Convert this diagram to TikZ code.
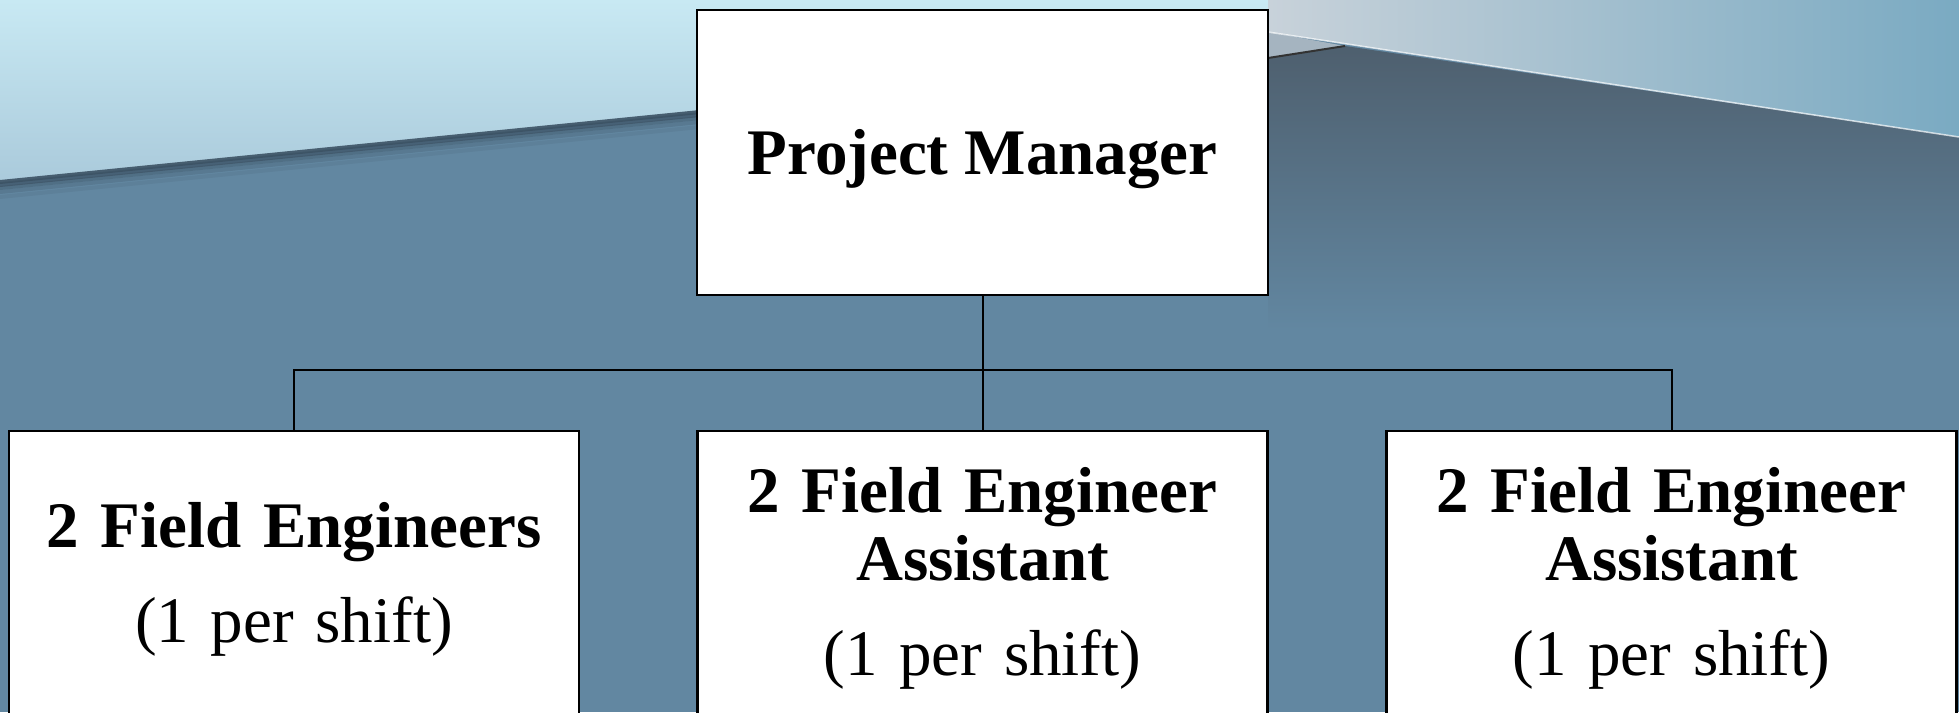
\documentclass[tikz,border=0pt]{standalone}
\usepackage{fontspec}
\setmainfont{Liberation Serif}

\definecolor{slate}{RGB}{98,135,161}
\definecolor{skytop}{RGB}{200,233,243}
\definecolor{skylow}{RGB}{170,202,219}
\definecolor{sheenL}{RGB}{200,210,218}
\definecolor{sheenR}{RGB}{122,170,194}
\definecolor{sheenM}{RGB}{165,180,192}
\definecolor{dusk}{RGB}{78,95,110}
\definecolor{shadow}{RGB}{60,82,100}

\begin{document}
\begin{tikzpicture}[x=1pt, y=-1pt,
    pmbox/.style={draw, line width=2.2pt, fill=white, minimum width=571pt, minimum height=285pt, text height=52pt, text depth=9pt, font=\fontsize{65}{68}\selectfont\bfseries},
    staffbox/.style={draw, line width=2.2pt, fill=white, anchor=north, text width=500pt, inner xsep=35pt, align=center, font=\fontsize{65}{68}\selectfont},
    link/.style={line width=2pt}]
    \useasboundingbox (0,0) rectangle (1959,712);
    \clip (0,0) rectangle (1959,712);

    % background
    \fill[slate] (0,0) rectangle (1959,712);
    \shade[top color=skytop, bottom color=skylow] (0,0) -- (1268,0) -- (1268,40) -- (700,112) -- (0,182) -- cycle;
    \foreach \d/\o in {0/0.9, 3/0.7, 6/0.45, 10/0.25, 15/0.12}
        \draw[shadow, line width=4pt, opacity=\o] (0,182+\d) -- (700,112+\d);
    \shade[left color=sheenL, right color=sheenR] (1268,0) -- (1959,0) -- (1959,137) -- (1268,32) -- cycle;
    \fill[sheenM] (1268,32) -- (1345,46) -- (1268,58) -- cycle;
    \shade[top color=dusk, bottom color=slate] (1268,58) -- (1345,46) -- (1959,137) -- (1959,330) -- (1268,330) -- cycle;
    \draw[white, line width=1.5pt, opacity=.7] (1268,32) -- (1959,137);
    \draw[black!80, line width=2pt] (1268,58) -- (1345,46);

    % chart
    \node[pmbox] (pm) at (982.5,152.5) {Project Manager};
    \node[staffbox, inner ysep=71pt] (fe) at (294,430) {\textbf{2 Field Engineers}\\[27pt](1 per shift)};
    \node[staffbox, inner ysep=36pt] (fea1) at (982.5,430) {\textbf{2 Field Engineer}\\\textbf{Assistant}\\[27pt](1 per shift)};
    \node[staffbox, inner ysep=36pt] (fea2) at (1671.5,430) {\textbf{2 Field Engineer}\\\textbf{Assistant}\\[27pt](1 per shift)};

    \coordinate (split) at (982.5,370);
    \draw[link] (pm.south) -- (split);
    \draw[link] (fe.north) |- (split) -| (fea2.north);
    \draw[link] (split) -- (fea1.north);
\end{tikzpicture}
\end{document}
